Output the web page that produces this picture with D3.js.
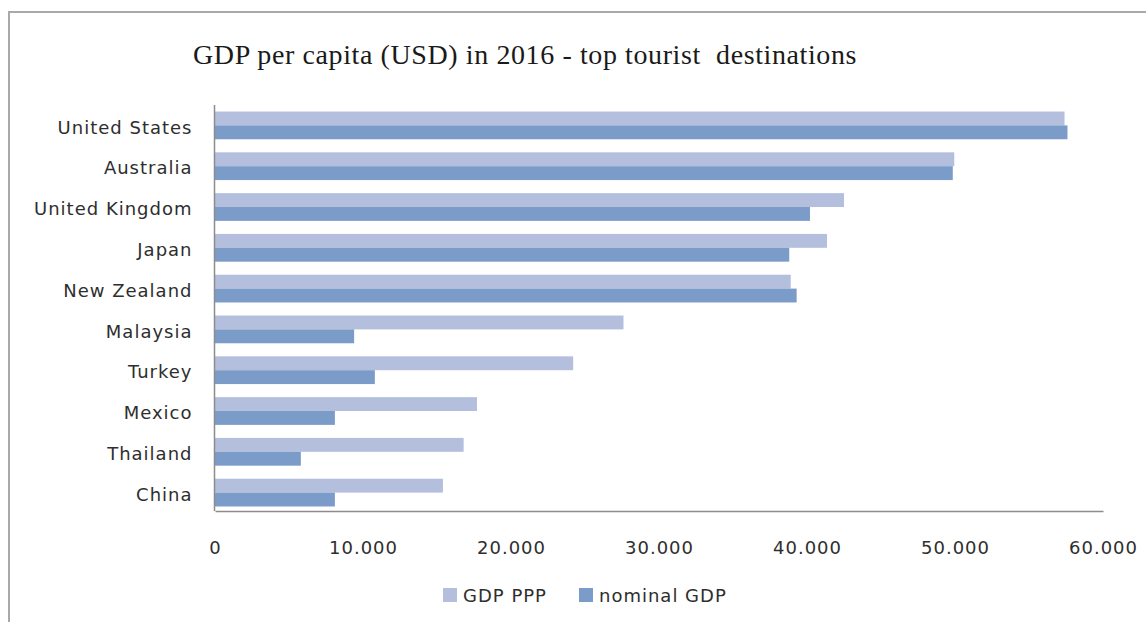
<!DOCTYPE html>
<html>
<head>
<meta charset="utf-8">
<script src="https://cdn.jsdelivr.net/npm/d3@7"></script>
<style>
  html, body { margin: 0; padding: 0; background: #fff; }
  svg { display: block; }
  .lbl { font-family: "DejaVu Sans", sans-serif; font-size: 18px; fill: #2e2e2e; letter-spacing: 1px; }
  .title { font-family: "Liberation Serif", "Times New Roman", serif; font-size: 28px; fill: #1a1a1a; letter-spacing: 0.6px; white-space: pre; }
</style>
</head>
<body>
<script>
// GDP per capita (USD), 2016, for the top tourist destinations
const countries = ["United States", "Australia", "United Kingdom", "Japan", "New Zealand",
                   "Malaysia", "Turkey", "Mexico", "Thailand", "China"];
const gdpPPP     = [57400, 49950, 42500, 41350, 38900, 27600, 24200, 17700, 16800, 15400];
const nominalGDP = [57600, 49850, 40200, 38800, 39300,  9400, 10800,  8100,  5800,  8100];
const seriesNames = ["GDP PPP", "nominal GDP"];
const xTicks = [0, 10000, 20000, 30000, 40000, 50000, 60000];
const titleText = "GDP per capita (USD) in 2016 - top tourist  destinations";

const W = 1146, H = 622;
const colors = { "GDP PPP": "#b3bfdd", "nominal GDP": "#7b9bc9" };

const svg = d3.select("body").append("svg").attr("width", W).attr("height", H);

// outer chart frame
svg.append("rect")
  .attr("x", 9).attr("y", 12).attr("width", W + 20).attr("height", H + 20)
  .attr("fill", "#fff").attr("stroke", "#a9a9a9").attr("stroke-width", 2);

const plot = { left: 215, right: 1103, top: 105, bottom: 511 };

const x = d3.scaleLinear().domain([0, 60000]).range([plot.left, plot.right]);
const y = d3.scaleBand().domain(countries).range([plot.top, plot.bottom + 2])
  .paddingInner(0.32).paddingOuter(0.16);
const ySub = d3.scaleBand().domain(seriesNames).range([0, y.bandwidth()]);

const rows = countries.map((c, i) => ({ country: c, values: [
  { key: "GDP PPP", value: gdpPPP[i] },
  { key: "nominal GDP", value: nominalGDP[i] }
]}));

// bars
const g = svg.append("g");
g.selectAll("g.row").data(rows).join("g")
  .attr("class", "row")
  .attr("transform", d => `translate(0,${y(d.country)})`)
  .selectAll("rect").data(d => d.values).join("rect")
    .attr("x", x(0))
    .attr("y", d => ySub(d.key))
    .attr("width", d => x(d.value) - x(0))
    .attr("height", ySub.bandwidth())
    .attr("fill", d => colors[d.key]);

// category axis
const yAxis = svg.append("g").attr("transform", `translate(${plot.left - 0.5},0)`)
  .call(d3.axisLeft(y).tickSize(0).tickPadding(22));
yAxis.select(".domain").attr("d", `M0,${plot.top}V${plot.bottom}`)
  .attr("stroke", "#8c8c8c").attr("stroke-width", 1.5);
yAxis.selectAll("text").attr("class", "lbl").attr("font-size", null).attr("font-family", null)
  .attr("dy", "0.45em");

// value axis
const fmt = d3.formatLocale({ decimal: ",", thousands: ".", grouping: [3], currency: ["", ""] }).format(",d");
const xAxis = svg.append("g").attr("transform", `translate(0,${plot.bottom})`)
  .call(d3.axisBottom(x).tickValues(xTicks).tickFormat(fmt).tickSize(0).tickPadding(30));
xAxis.select(".domain").attr("stroke", "#8c8c8c").attr("stroke-width", 1.5);
xAxis.selectAll("text").attr("class", "lbl").attr("font-size", null).attr("font-family", null);

// title
svg.append("text").attr("class", "title")
  .attr("x", 193).attr("y", 64)
  .text(titleText);

// legend
const legend = svg.append("g").attr("transform", "translate(443,588)");
const items = [{ name: "GDP PPP", dx: 0 }, { name: "nominal GDP", dx: 136 }];
const li = legend.selectAll("g").data(items).join("g")
  .attr("transform", d => `translate(${d.dx},0)`);
li.append("rect").attr("width", 14).attr("height", 14).attr("fill", d => colors[d.name]);
li.append("text").attr("class", "lbl").attr("x", 20).attr("y", 7).attr("dy", "0.38em")
  .text(d => d.name);
</script>
</body>
</html>
